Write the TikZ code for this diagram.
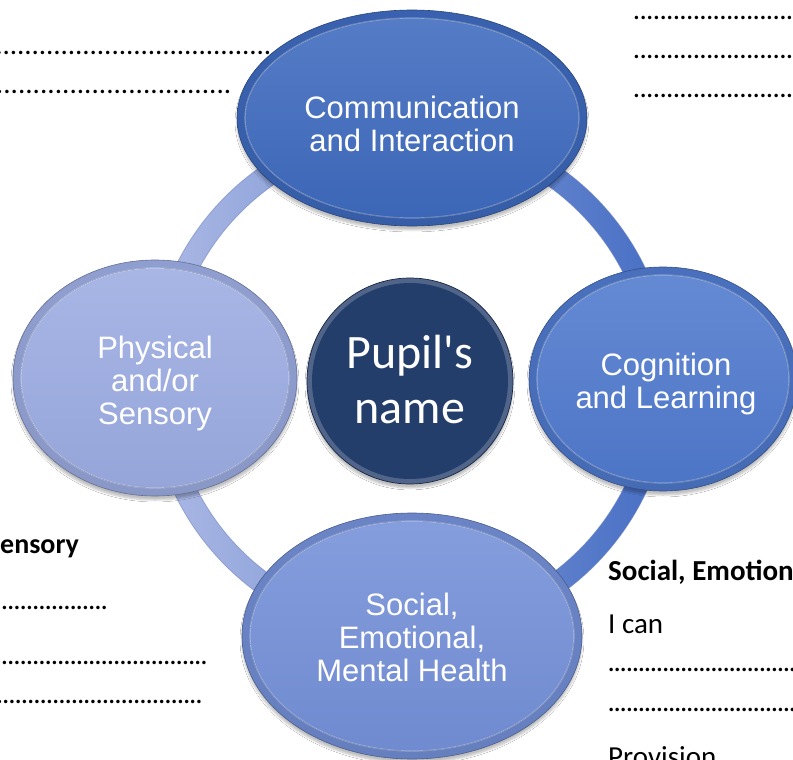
\documentclass[tikz,border=0pt]{standalone}
\usepackage{fontspec}
\setmainfont{Carlito}
\newfontfamily\calf{Carlito}
\newfontfamily\arialf{Liberation Sans}
\usetikzlibrary{shapes.geometric,shadows.blur}

\definecolor{ringL}{RGB}{172,185,228}
\definecolor{ringR}{RGB}{70,110,196}
\definecolor{ringEdge}{RGB}{110,130,190}
\definecolor{cTop}{RGB}{62,106,190}
\definecolor{cRight}{RGB}{80,122,206}
\definecolor{cBottom}{RGB}{116,144,216}
\definecolor{cLeft}{RGB}{156,172,226}
\definecolor{cCenter}{RGB}{36,62,108}

\newcommand\dotrow[2]{\hbox to #1{\xleaders\hbox to #2{\hss.\hss}\hfill}}

\newcommand\bubble[8]{%
  \node[bubbase, minimum width={2*#4}, minimum height={2*#5},
        top color=#6!92!black, bottom color=#6!88!black, draw=#6!65!black] (#1) at (#2,#3) {};
  \fill[top color=#6!88!white, bottom color=#6!96!black]
     (#1.center) ellipse [x radius={#4-8}, y radius={#5-8}];
  \draw[white, opacity=0.3, line width=1.2pt]
     (#1.center) ellipse [x radius={#4-8}, y radius={#5-8}];
  \node[btext, #8] at (#1.center) {#7};
}

\tikzset{
  bubbase/.style={ellipse, inner sep=0pt, line width=0.6pt,
    blur shadow={shadow xshift=0pt, shadow yshift=-4pt, shadow opacity=25, shadow blur steps=6}},
  btext/.style={text=white, align=center, font=\arialf\fontsize{31}{33}\selectfont},
  dots/.style={inner sep=0pt, font=\fontsize{29}{30}\selectfont},
  side/.style={inner sep=0pt, font=\fontsize{29}{30}\selectfont},
  sidehead/.style={inner sep=0pt, font=\bfseries\fontsize{29}{30}\selectfont},
}

\begin{document}
\begin{tikzpicture}[x=1pt, y=1pt]
\useasboundingbox (0,0) rectangle (793,-760);
\clip (0,0) rectangle (793,-760);
\fill[white] (0,0) rectangle (793,-760);

% side texts
\node[dots, anchor=base east] (tl1) at (272,-55) {\dotrow{320pt}{7.25pt}};
\node[dots, anchor=base east] (tl2) at (232,-94) {\dotrow{280pt}{7.25pt}};

\node[dots, anchor=base west] (tr1) at (633,-20) {\dotrow{200pt}{6.6pt}};
\node[dots, anchor=base west] (tr2) at (633,-59) {\dotrow{200pt}{6.6pt}};
\node[dots, anchor=base west] (tr3) at (633,-97) {\dotrow{200pt}{6.6pt}};

\node[sidehead, anchor=base west, font=\bfseries\fontsize{28}{30}\selectfont] (bl0) at (0,-553) {ensory};
\node[dots, anchor=base east] (bl1) at (108,-609) {\dotrow{150pt}{6.1pt}};
\node[dots, anchor=base east] (bl2) at (208,-664) {\dotrow{250pt}{6.1pt}};
\node[dots, anchor=base east] (bl3) at (203,-703) {\dotrow{250pt}{6.1pt}};

\node[sidehead, anchor=base west] (br0) at (608,-580) {Social, Emotion};
\node[side, anchor=base west] (br1) at (608,-633) {I can};
\node[dots, anchor=base west] (br2) at (608,-671) {\dotrow{200pt}{6pt}};
\node[dots, anchor=base west] (br3) at (608,-711) {\dotrow{200pt}{6pt}};
\node[side, anchor=base west] (br4) at (608,-766) {Provision};

% ring
\coordinate (rc) at (410,-381);
\shade[left color=ringL, right color=ringR, even odd rule]
  (rc) circle [radius=261] (rc) circle [radius=239];
\draw[ringEdge, opacity=0.6, line width=0.7pt] (rc) circle [radius=261];
\draw[ringEdge, opacity=0.6, line width=0.7pt] (rc) circle [radius=239];

% centre
\node[circle, inner sep=0pt, minimum size=206pt, fill=cCenter!80!white, draw=cCenter!60!black,
      line width=0.7pt, blur shadow={shadow xshift=0pt, shadow yshift=-4pt, shadow opacity=25}] (pc) at (410,-381) {};
\fill[cCenter] (pc.center) circle [radius=98];
\node[text=white, align=center, font=\calf\fontsize{48}{55}\selectfont, yshift=1pt] at (pc.center) {Pupil's\\name};

% bubbles
\bubble{ci}{412}{-118}{175}{108}{cTop}{Communication\\and Interaction}{yshift=-6pt}
\bubble{ps}{155}{-378}{142}{118}{cLeft}{Physical\\and/or\\Sensory}{yshift=-5pt}
\bubble{cl}{663}{-379}{134}{112}{cRight}{Cognition\\and Learning}{yshift=-5pt, xshift=3pt}
\bubble{se}{412}{-636}{170}{123}{cBottom}{Social,\\Emotional,\\Mental Health}{yshift=-1pt}

\end{tikzpicture}
\end{document}
